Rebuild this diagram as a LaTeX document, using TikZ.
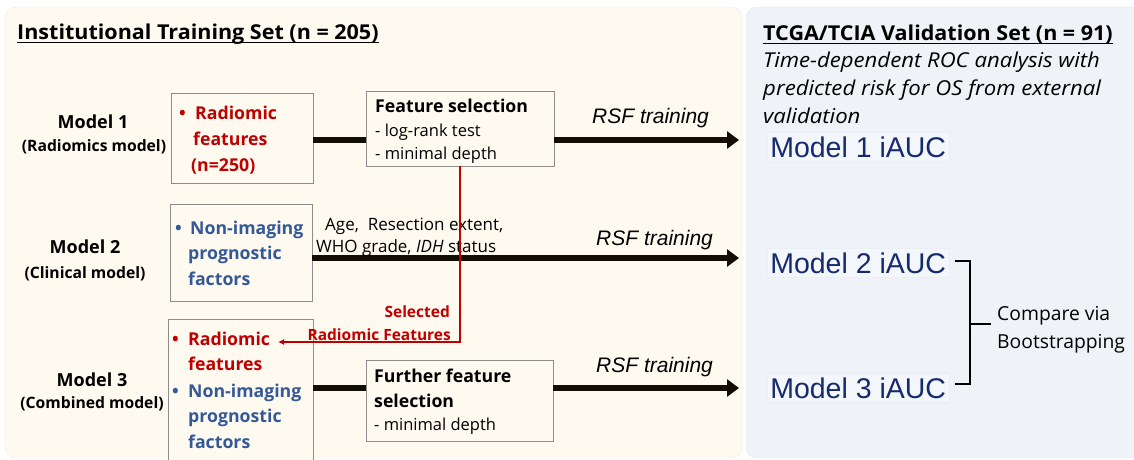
\documentclass[tikz,border=0pt]{standalone}
\usepackage{fontspec}
\setmainfont{Open Sans}
\newfontfamily\arialf{Liberation Sans}
\newfontfamily\headfont[FakeStretch=1.05]{Open Sans}
\newfontfamily\notefont[FakeStretch=1.08]{Open Sans}
\usetikzlibrary{arrows.meta,calc}

\definecolor{trainbg}{RGB}{254,250,240}
\definecolor{trainedge}{RGB}{240,234,218}
\definecolor{valbg}{RGB}{239,243,248}
\definecolor{valedge}{RGB}{226,231,238}
\definecolor{radred}{RGB}{192,0,0}
\definecolor{clinblue}{RGB}{52,88,152}
\definecolor{aucnavy}{RGB}{22,42,110}
\definecolor{arrowblk}{RGB}{18,14,6}
\definecolor{boxgray}{RGB}{140,140,140}
\definecolor{aucfill}{RGB}{243,246,250}
\definecolor{aucedge}{RGB}{235,239,245}

\tikzset{
  txt/.style={inner sep=0pt, anchor=base west},
  ctxt/.style={inner sep=0pt, anchor=base},
  heading/.style={txt, font=\headfont\bfseries\fontsize{20.5}{24}\selectfont},
  modelname/.style={ctxt, font=\bfseries\fontsize{18}{22}\selectfont},
  modelsub/.style={ctxt, font=\bfseries\fontsize{15.7}{19}\selectfont},
  stepbox/.style={draw=boxgray, line width=0.8pt, fill=trainbg},
  boxtxt/.style={txt, font=\bfseries\fontsize{17.7}{21}\selectfont},
  steptitle/.style={txt, font=\bfseries\fontsize{17.7}{21}\selectfont},
  stepitem/.style={txt, font=\fontsize{16.5}{20}\selectfont},
  factortxt/.style={txt, font=\fontsize{17}{20}\selectfont},
  rsf/.style={txt, font=\arialf\itshape\fontsize{21}{25}\selectfont},
  link/.style={line width=6pt, draw=arrowblk},
  flow/.style={line width=6pt, draw=arrowblk, -{Triangle[length=12pt,width=17pt]}},
  redlink/.style={line width=1.4pt, draw=radred, -{Latex[length=6pt,width=6pt]}},
  redlbl/.style={inner sep=0pt, anchor=base east, text=radred, font=\bfseries\fontsize{15.5}{19}\selectfont},
  valtxt/.style={txt, font=\notefont\itshape\fontsize{20.5}{24}\selectfont},
  auc/.style={anchor=base west, inner xsep=3pt, inner ysep=4pt, fill=aucfill, draw=aucedge,
              line width=0.5pt, text=aucnavy, font=\arialf\fontsize{28.5}{32}\selectfont},
  bracket/.style={line width=1.6pt, draw=black},
  cmptxt/.style={txt, font=\fontsize{19.3}{23}\selectfont},
}

\begin{document}
\begin{tikzpicture}[x=1pt, y=-1pt]
\useasboundingbox (0,0) rectangle (1134,460);
\clip (0,0) rectangle (1134,460);

% background panels
\filldraw[fill=trainbg, draw=trainedge, rounded corners=11pt] (5,7) rectangle (742,458);
\filldraw[fill=valbg, draw=valedge, rounded corners=11pt] (746,7) rectangle (1160,458);

% training set heading
\node[heading] (trainhead) at (17,40) {Institutional Training Set (n = 205)};
\draw[line width=1.1pt] ([yshift=-2.8pt]trainhead.base west) -- ([yshift=-2.8pt]trainhead.base east);

% model names
\node[modelname] (m1name) at (93,128) {Model 1};
\node[modelsub] (m1sub) at (94,151) {(Radiomics model)};
\node[modelname] (m2name) at (85,253) {Model 2};
\node[modelsub] (m2sub) at (85,278) {(Clinical model)};
\node[modelname] (m3name) at (92,386) {Model 3};
\node[modelsub] (m3sub) at (92,408) {(Combined model)};

% arrow rows
\coordinate (row1) at (0,140);
\coordinate (row2) at (0,258);
\coordinate (row3) at (0,388);
\coordinate (tip1) at (739,140);
\coordinate (tip2) at (739,258);
\coordinate (tip3) at (739,388);

% input boxes and selection boxes
\node[stepbox, minimum width=142, minimum height=90] (b1) at (242,138) {};
\node[stepbox, minimum width=142, minimum height=97] (b2) at (241,252.5) {};
\node[stepbox, minimum width=145, minimum height=160] (b3) at (240.5,399) {};
\node[stepbox, minimum width=188, minimum height=75] (fs) at (460,128.5) {};
\node[stepbox, minimum width=187, minimum height=81] (ffs) at (459.5,400.5) {};

% thick flow arrows
\draw[link] (b1.east |- row1) -- (fs.west |- row1);
\draw[flow] (fs.east |- row1) -- (tip1);
\draw[flow] (b2.east |- row2) -- (tip2);
\draw[link] (b3.east |- row3) -- (ffs.west |- row3);
\draw[flow] (ffs.east |- row3) -- (tip3);

% box 1 contents
\node[boxtxt, text=radred] (b1dot) at (179,119) {•};
\node[boxtxt, text=radred] (b1a) at (195,119) {Radiomic};
\node[boxtxt, text=radred] (b1b) at (193,145) {features};
\node[boxtxt, text=radred] (b1c) at (191,171) {(n=250)};

% box 2 contents
\node[boxtxt, text=clinblue] (b2dot) at (175,234) {•};
\node[boxtxt, text=clinblue] (b2a) at (190,234) {Non-imaging};
\node[boxtxt, text=clinblue] (b2b) at (188,259) {prognostic};
\node[boxtxt, text=clinblue] (b2c) at (188,285) {factors};

% box 3 contents
\node[boxtxt, text=radred] (b3dot1) at (172,345) {•};
\node[boxtxt, text=radred] (b3a) at (188,345) {Radiomic};
\node[boxtxt, text=radred] (b3b) at (188,370) {features};
\node[boxtxt, text=clinblue] (b3dot2) at (172,397) {•};
\node[boxtxt, text=clinblue] (b3c) at (188,397) {Non-imaging};
\node[boxtxt, text=clinblue] (b3d) at (188,422) {prognostic};
\node[boxtxt, text=clinblue] (b3e) at (188,448) {factors};

% selection box contents
\node[steptitle] (fs1) at (375,112) {Feature selection};
\node[stepitem] (fs2) at (375,136) {- log-rank test};
\node[stepitem] (fs3) at (375,159) {- minimal depth};
\node[steptitle] (ffs1) at (374,382) {Further feature};
\node[steptitle] (ffs2) at (374,407) {selection};
\node[stepitem] (ffs3) at (374,430) {- minimal depth};

% clinical factors
\node[factortxt] (fac1) at (325,230) {Age,\ \ Resection extent,};
\node[factortxt] (fac2) at (316,252) {WHO grade, \textit{IDH} status};

% RSF labels
\node[rsf] (rsf1) at (592,123) {RSF training};
\node[rsf] (rsf2) at (596,245) {RSF training};
\node[rsf] (rsf3) at (596,372) {RSF training};

% selected radiomic features feed into model 3
\coordinate (redtip) at (278,342);
\draw[redlink] (fs.south) |- (redtip);
\node[redlbl] (sel1) at (450,317) {Selected};
\node[redlbl] (sel2) at (451,340) {Radiomic Features};

% validation panel
\node[heading] (valhead) at (763,41) {TCGA/TCIA Validation Set (n = 91)};
\draw[line width=1.1pt] ([yshift=-2.8pt]valhead.base west) -- ([yshift=-2.8pt]valhead.base east);
\node[valtxt] (val1) at (763,67) {Time-dependent ROC analysis with};
\node[valtxt] (val2) at (763,95) {predicted risk for OS from external};
\node[valtxt] (val3) at (763,123) {validation};

\node[auc] (auc1) at (767,157) {Model 1 iAUC};
\node[auc] (auc2) at (767,273) {Model 2 iAUC};
\node[auc] (auc3) at (767,398) {Model 3 iAUC};

% comparison bracket
\coordinate (btop) at ($(auc2.east)+(6,-2)$);
\coordinate (bbot) at ($(auc3.east)+(6,-4)$);
\coordinate (bmid) at (970,324);
\draw[bracket] (btop) -- (btop -| bmid) -- (bbot -| bmid) -- (bbot);
\node[cmptxt] (cmp1) at (997,320) {Compare via};
\node[cmptxt] (cmp2) at (997,348) {Bootstrapping};
\draw[bracket] (bmid) -- ($(cmp1.west |- bmid)+(-6,0)$);
\end{tikzpicture}
\end{document}
